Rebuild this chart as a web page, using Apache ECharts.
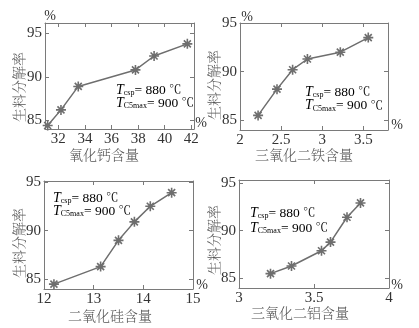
<!DOCTYPE html>
<html>
<head>
<meta charset="utf-8">
<script src="https://cdn.jsdelivr.net/npm/echarts@6/dist/echarts.min.js"></script>
<style>
  html, body { margin: 0; padding: 0; background: #fff; }
  #chart { width: 419px; height: 328px; }
</style>
</head>
<body>
<div id="chart"></div>
<script>
// Decomposition rate (%) versus content of each raw-meal oxide
const caoX   = [31.2, 32.2, 33.5, 37.8, 39.2, 41.7];
const caoY   = [84.4, 86.2, 88.9, 90.8, 92.4, 93.8];
const fe2o3X = [2.22, 2.45, 2.64, 2.82, 3.22, 3.56];
const fe2o3Y = [85.5, 88.2, 90.2, 91.3, 92.0, 93.5];
const sio2X  = [12.2, 13.14, 13.5, 13.82, 14.14, 14.57];
const sio2Y  = [84.5, 86.3, 89.0, 90.9, 92.5, 93.9];
const al2o3X = [3.21, 3.35, 3.55, 3.61, 3.72, 3.81];
const al2o3Y = [85.5, 86.3, 87.9, 88.8, 91.4, 92.9];

const caoTicks   = [32, 34, 36, 38, 40, 42];
const fe2o3Ticks = [2, 2.5, 3, 3.5];
const sio2Ticks  = [12, 13, 14, 15];
const al2o3Ticks = [3, 3.5, 4];
const rateTicks  = [85, 90, 95];

const yTitle = '生料分解率';
const xTitles = ['氧化钙含量', '三氧化二铁含量', '二氧化硅含量', '三氧化二铝含量'];

const SERIF = '"Liberation Serif", "Times New Roman", serif';
const CJK = '"Noto Serif CJK SC", "Noto Sans CJK SC", sans-serif';
const AXIS = '#7a7a7a';
const INK = '#333';
const LINE = '#6e6e6e';
const STAR = 'path://M5,0L5,10M0,5L10,5M1.5,1.5L8.5,8.5M1.5,8.5L8.5,1.5';

const panels = [
  { x: caoX,   y: caoY,   xt: caoTicks,   xmin: 31, xmax: 42.2, ymin: 84, ymax: 96.2,
    grid: { left: 45, top: 23, width: 149, height: 106 } },
  { x: fe2o3X, y: fe2o3Y, xt: fe2o3Ticks, xmin: 2,  xmax: 3.8,  ymin: 84, ymax: 95,
    grid: { left: 240, top: 23, width: 148, height: 107 } },
  { x: sio2X,  y: sio2Y,  xt: sio2Ticks,  xmin: 12, xmax: 15,   ymin: 84, ymax: 95.1,
    grid: { left: 44, top: 181, width: 149, height: 108 } },
  { x: al2o3X, y: al2o3Y, xt: al2o3Ticks, xmin: 3,  xmax: 4,    ymin: 84, ymax: 95.3,
    grid: { left: 239, top: 180, width: 150, height: 108 } }
];

function tickStyle(values) {
  return { show: true, inside: true, length: 4, customValues: values,
           lineStyle: { color: AXIS, width: 1 } };
}
function labelStyle(values, margin) {
  return { show: true, customValues: values, color: INK, fontFamily: SERIF,
           fontSize: 15, margin: margin };
}

const grids = [], xAxes = [], yAxes = [], series = [];
panels.forEach((p, i) => {
  grids.push(p.grid);
  const line = { show: true, onZero: false, lineStyle: { color: AXIS, width: 1 } };
  xAxes.push({ type: 'value', gridIndex: i, position: 'bottom', min: p.xmin, max: p.xmax,
    axisLine: line, axisTick: tickStyle(p.xt), axisLabel: labelStyle(p.xt, 3), splitLine: { show: false } });
  xAxes.push({ type: 'value', gridIndex: i, position: 'top', min: p.xmin, max: p.xmax,
    axisLine: line, axisTick: tickStyle(p.xt), axisLabel: { show: false }, splitLine: { show: false } });
  yAxes.push({ type: 'value', gridIndex: i, position: 'left', min: p.ymin, max: p.ymax,
    axisLine: line, axisTick: tickStyle(rateTicks), axisLabel: labelStyle(rateTicks, 3), splitLine: { show: false } });
  yAxes.push({ type: 'value', gridIndex: i, position: 'right', min: p.ymin, max: p.ymax,
    axisLine: line, axisTick: tickStyle(rateTicks), axisLabel: { show: false }, splitLine: { show: false } });
  series.push({
    type: 'line', xAxisIndex: 2 * i, yAxisIndex: 2 * i,
    data: p.x.map((v, k) => [v, p.y[k]]),
    symbol: STAR, symbolSize: 10,
    lineStyle: { color: LINE, width: 1.5 },
    itemStyle: { color: LINE, borderColor: LINE, borderWidth: 1.6 },
    silent: true
  });
});

// operating-condition notes: italic T with a lowered subscript
const noteRich = {
  t: { fontFamily: SERIF, fontStyle: 'italic', fontSize: 14, color: INK, lineHeight: 14,
       verticalAlign: 'top', padding: [0, 0, 1, 0] },
  s: { fontFamily: SERIF, fontSize: 8, color: INK, lineHeight: 8, verticalAlign: 'bottom' },
  e: { fontFamily: SERIF, fontSize: 13.5, color: INK, lineHeight: 14, verticalAlign: 'top', padding: [0, 0, 1, 0] },
  c: { fontFamily: CJK, fontSize: 12.5, color: INK, lineHeight: 14, verticalAlign: 'top', padding: [0, 0, 1, 0] }
};
function note(x, y, gap) {
  return [
    { type: 'text', x: x, y: y, silent: true,
      style: { text: '{t|T}{s|csp}{e|= 880 }{c|℃}', rich: noteRich } },
    { type: 'text', x: x, y: y + gap, silent: true,
      style: { text: '{t|T}{s|C5max}{e|= 900 }{c|℃}', rich: noteRich } }
  ];
}
function plain(text, cx, cy) {
  return { type: 'text', x: cx, y: cy, silent: true,
    style: { text: text, fill: INK, font: '14px ' + SERIF, align: 'center', verticalAlign: 'middle' } };
}
function cjk(text, cx, cy, rotation) {
  return { type: 'text', x: cx, y: cy, rotation: rotation || 0, silent: true,
    style: { text: text, fill: '#555', fontFamily: CJK, fontSize: 14, fontWeight: 300,
             align: 'center', verticalAlign: 'middle' } };
}

const graphic = [].concat(
  note(116, 83, 13.3),
  note(305, 85, 13.5),
  note(53, 191, 13.3),
  note(250, 206, 15),
  [
    plain('%', 50, 16), plain('%', 247, 17),
    plain('%', 201, 123), plain('%', 397, 125),
    plain('%', 202, 285), plain('%', 397, 285),
    cjk(xTitles[0], 104, 155), cjk(xTitles[1], 304, 155),
    cjk(xTitles[2], 110, 316), cjk(xTitles[3], 300, 313),
    cjk(yTitle, 19, 87, Math.PI / 2), cjk(yTitle, 214, 85, Math.PI / 2),
    cjk(yTitle, 19, 243, Math.PI / 2), cjk(yTitle, 214, 240, Math.PI / 2)
  ]
);

const chart = echarts.init(document.getElementById('chart'), null, { renderer: 'canvas' });
chart.setOption({
  animation: false,
  backgroundColor: '#fff',
  grid: grids,
  xAxis: xAxes,
  yAxis: yAxes,
  series: series,
  graphic: graphic
});
</script>
</body>
</html>
